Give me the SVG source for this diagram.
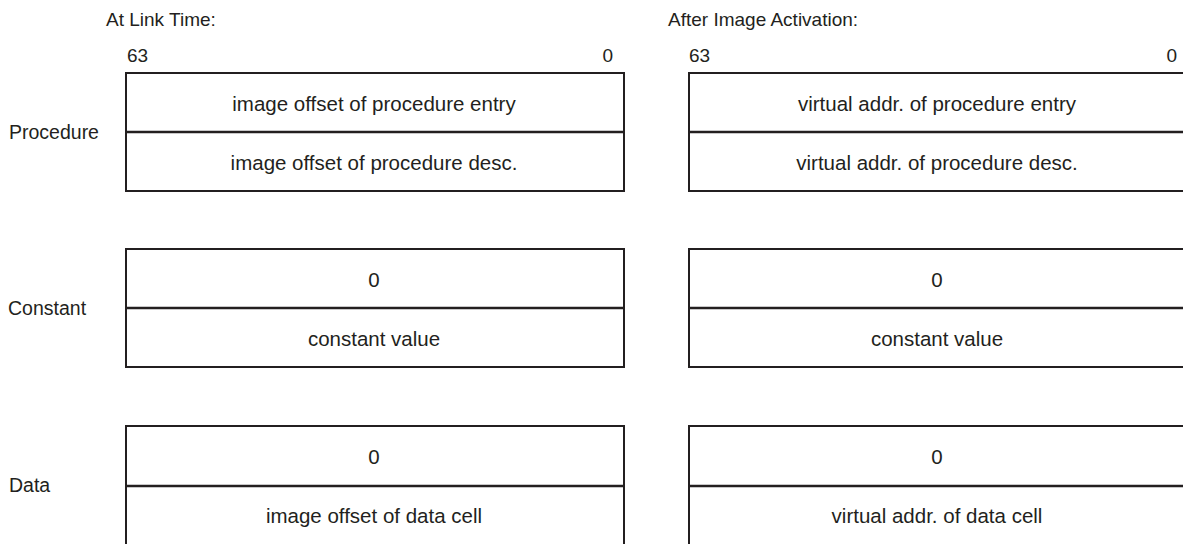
<svg xmlns="http://www.w3.org/2000/svg" width="1183" height="544" viewBox="0 0 1183 544">
<style>
text{font-family:"Liberation Sans",Arial,sans-serif;font-size:19.5px;fill:#231f20}
.h{font-size:19px}
.c{text-anchor:middle;font-size:20.5px}
.e{text-anchor:end}
.box{fill:#fff;stroke:#231f20;stroke-width:2}
.div{stroke:#231f20;stroke-width:2.5}
</style>
<rect width="1183" height="544" fill="#fff"/>
<g id="headers">
<text class="h" x="106" y="26">At Link Time:</text>
<text class="h" x="127" y="62">63</text>
<text class="h e" x="613" y="62">0</text>
<text class="h" x="668" y="26">After Image Activation:</text>
<text class="h" x="689" y="62">63</text>
<text class="h e" x="1177" y="62">0</text>
</g>
<g id="labels">
<text x="9" y="139">Procedure</text>
<text x="8" y="315">Constant</text>
<text x="9" y="492">Data</text>
</g>
<g id="link-procedure">
<rect class="box" x="126" y="73" width="498" height="118"/>
<line class="div" x1="126" y1="132" x2="624" y2="132"/>
<text class="c" x="374" y="111">image offset of procedure entry</text>
<text class="c" x="374" y="170">image offset of procedure desc.</text>
</g>
<g id="act-procedure">
<rect class="box" x="689" y="73" width="500" height="118"/>
<line class="div" x1="689" y1="132" x2="1189" y2="132"/>
<text class="c" x="937" y="111">virtual addr. of procedure entry</text>
<text class="c" x="937" y="170">virtual addr. of procedure desc.</text>
</g>
<g id="link-constant">
<rect class="box" x="126" y="249" width="498" height="118"/>
<line class="div" x1="126" y1="308" x2="624" y2="308"/>
<text class="c" x="374" y="287">0</text>
<text class="c" x="374" y="346">constant value</text>
</g>
<g id="act-constant">
<rect class="box" x="689" y="249" width="500" height="118"/>
<line class="div" x1="689" y1="308" x2="1189" y2="308"/>
<text class="c" x="937" y="287">0</text>
<text class="c" x="937" y="346">constant value</text>
</g>
<g id="link-data">
<rect class="box" x="126" y="426" width="498" height="125"/>
<line class="div" x1="126" y1="486" x2="624" y2="486"/>
<text class="c" x="374" y="464">0</text>
<text class="c" x="374" y="523">image offset of data cell</text>
</g>
<g id="act-data">
<rect class="box" x="689" y="426" width="500" height="125"/>
<line class="div" x1="689" y1="486" x2="1189" y2="486"/>
<text class="c" x="937" y="464">0</text>
<text class="c" x="937" y="523">virtual addr. of data cell</text>
</g>
<g id="connectors"></g>
</svg>
